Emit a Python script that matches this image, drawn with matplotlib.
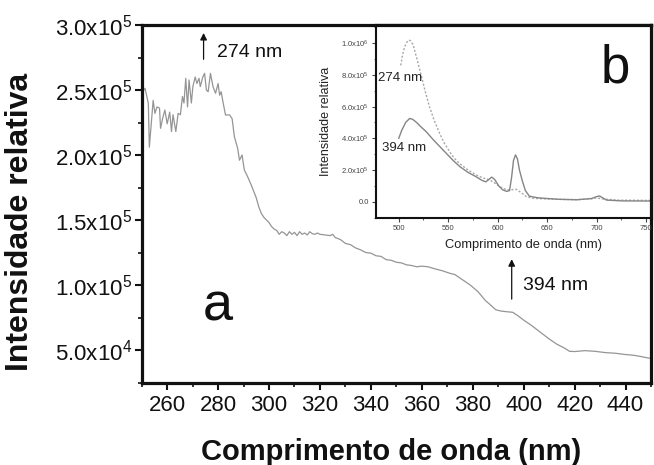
import matplotlib
matplotlib.use("Agg")
import matplotlib.pyplot as plt
from matplotlib.ticker import MultipleLocator, FixedLocator, FuncFormatter
import math

plt.rcParams['font.family'] = ['Liberation Sans', 'DejaVu Sans']
plt.rcParams['mathtext.fontset'] = 'custom'
plt.rcParams['mathtext.rm'] = 'Liberation Sans'
plt.rcParams['mathtext.it'] = 'Liberation Sans'
plt.rcParams['mathtext.default'] = 'regular'

# ---- main excitation spectrum (a) ----
exc_nm = [250.5, 251.3, 252.6, 253, 254, 254.5, 255.2, 256, 257, 257.4, 258.2, 259.1, 260,
          261, 261.7, 262.3, 263.4, 264.3, 265.2, 266, 266.6, 267.3, 268, 268.6, 269.5,
          270.1, 271, 271.7, 272.5, 273, 274, 274.7, 275.4, 276.1, 277, 278, 279, 280,
          280.6, 281.2, 281.9, 282.9, 284.5, 285.5, 286.4, 287.7, 288.4, 289.4, 290.3,
          291.6, 293, 294, 295, 296, 297, 298, 299, 300, 301, 302, 303, 304, 305, 306,
          307, 308, 309, 310, 311, 312, 313, 314, 315, 316, 317, 318, 319, 320, 322, 324,
          325, 326, 328, 330, 332, 334, 336, 338, 340, 342, 344, 346, 348, 350, 352, 354,
          356, 358, 360, 362.5, 365, 368, 371, 373, 376, 379, 382, 385, 387, 389, 391,
          393, 395.7, 398, 400, 403, 407, 410, 413, 416, 418, 420, 424, 428, 432, 436,
          440, 443, 446, 448.5, 450]
exc_int_k = [249, 251.3, 239.8, 206, 229.5, 242, 232, 237, 236, 220.5, 228, 234.6, 224,
             233, 218, 231, 218, 232, 231, 245, 240, 259, 237, 257.7, 240,
             252.6, 260, 255, 259, 252.6, 260, 262.8, 250, 248.7, 262.8, 252.6, 247.5, 255,
             246, 248.7, 241, 230.8, 230.8, 228, 214, 205, 196, 200, 188.5,
             183.3, 177, 172, 167, 160, 155, 152, 150, 148, 145, 143, 142, 139, 141, 140,
             138, 141, 139, 140.5, 138, 141, 139, 140, 138.5, 141, 139.5, 139, 140, 139,
             138.5, 138,
             139, 136.5, 135, 132, 131, 128.5, 127, 125, 124.5, 122.5, 122, 119.5, 119,
             117.5, 117, 115.5,
             115, 114, 114.5, 114, 112.5, 111, 109, 108, 104, 100, 95, 88, 84.6, 81, 80,
             79.5, 79, 76, 73, 69, 63, 58.5, 54.5, 51.5, 49, 48.8, 49.5, 49, 48, 47.5,
             46.5, 46, 45, 44, 43.5]
exc_int = [v * 1000 for v in exc_int_k]

# ---- inset emission spectra (b) ----
em394_nm = [500, 503, 507, 511, 514, 518, 522, 528, 535, 545, 555, 562, 570, 578, 584, 588,
            591, 594, 597, 601, 605, 609, 612, 614, 616, 618, 620, 622, 625, 628, 632, 640,
            650, 662, 680, 695, 700, 703, 706, 710, 725, 755]
em394_M = [0.40, 0.45, 0.50, 0.525, 0.52, 0.50, 0.475, 0.44, 0.39, 0.325, 0.26, 0.22,
           0.185, 0.158, 0.135, 0.125, 0.14, 0.155, 0.14, 0.10, 0.075, 0.065, 0.07, 0.15,
           0.26, 0.295, 0.27, 0.2, 0.13, 0.07, 0.035, 0.025, 0.02, 0.015, 0.012, 0.02,
           0.032, 0.036, 0.025, 0.01, 0.005, 0.004]
em274_nm = [502, 504, 506, 508, 510.4, 512, 514.5, 518, 523, 527, 531, 536, 541.4, 546,
            551.5, 556, 561.6, 570, 578.5, 585, 592, 597, 602, 607, 612, 615, 619, 623,
            629, 635, 645, 660, 680, 695, 700, 705, 720, 755]
em274_M = [0.86, 0.93, 0.978, 1.005, 1.02, 1.015, 0.99, 0.91, 0.79, 0.69, 0.60, 0.51,
           0.43, 0.37, 0.315, 0.275, 0.24, 0.2, 0.168, 0.15, 0.137, 0.118, 0.095, 0.08,
           0.074, 0.076, 0.078, 0.06, 0.032, 0.022, 0.018, 0.015, 0.013, 0.018, 0.024,
           0.018, 0.01, 0.008]
em394 = [v * 1e6 for v in em394_M]
em274 = [v * 1e6 for v in em274_M]

main_xticks = [260, 280, 300, 320, 340, 360, 380, 400, 420, 440]
main_yticks = [5.0e4, 1.0e5, 1.5e5, 2.0e5, 2.5e5, 3.0e5]
inset_xticks = [500, 550, 600, 650, 700, 750]
inset_yticks = [0.0, 2.0e5, 4.0e5, 6.0e5, 8.0e5, 1.0e6]


def sci_fmt(v, pos=None):
    if v == 0:
        return '0.0'
    e = int(math.floor(math.log10(abs(v)) + 1e-9))
    m = v / 10 ** e
    return r'%.1fx10$^{%d}$' % (m, e)


W, H = 654, 465
fig = plt.figure(figsize=(W / 100, H / 100), dpi=100)
ax = fig.add_axes([141.7 / W, 1 - 382.5 / H, (651 - 141.7) / W, (382.5 - 25) / H])

ax.plot(exc_nm, exc_int, color='#959595', lw=0.9)
ax.set_xlim(250, 450)
ax.set_ylim(25000, 300000)
ax.xaxis.set_major_locator(FixedLocator(main_xticks))
ax.xaxis.set_minor_locator(MultipleLocator(10))
ax.yaxis.set_major_locator(FixedLocator(main_yticks))
ax.yaxis.set_minor_locator(MultipleLocator(25000))
ax.yaxis.set_major_formatter(FuncFormatter(sci_fmt))
for s in ax.spines.values():
    s.set_linewidth(2.3)
    s.set_color('#111111')
ax.tick_params(which='major', direction='out', length=5, width=1.5, labelsize=16,
               colors='#111111', pad=4)
ax.tick_params(which='minor', direction='out', length=3, width=1.2, colors='#111111')
ax.tick_params(axis='y', which='major', pad=2, labelsize=16)

ax.set_xlabel('Comprimento de onda (nm)', fontsize=21, fontweight='bold', color='#111111')
ax.set_ylabel('Intensidade relativa', fontsize=23, fontweight='bold', color='#111111')
ax.xaxis.set_label_coords(0.49, -0.155)
ax.yaxis.set_label_coords(-0.21, 0.45)

# annotations on main
ax.annotate('', xy=(274.3, 296000), xytext=(274.3, 271500),
            arrowprops=dict(arrowstyle='-|>', color='#111111', lw=0.9,
                            mutation_scale=10))
ax.text(279.5, 279000, '274 nm', fontsize=14, va='center', ha='left', color='#111111')
ax.annotate('', xy=(395.3, 122000), xytext=(395.3, 87000),
            arrowprops=dict(arrowstyle='-|>', color='#111111', lw=0.9,
                            mutation_scale=10))
ax.text(399.7, 100000, '394 nm', fontsize=14, va='center', ha='left', color='#111111')
ax.text(274, 73000, 'a', fontsize=39, va='baseline', ha='left', color='#111111')

# ---- inset ----
ia = fig.add_axes([376 / W, 1 - 218 / H, (651 - 376) / W, (218 - 25) / H])
ia.plot(em274_nm, em274, color='#a8a8a8', lw=1.0, ls=(0, (1.5, 1.3)))
ia.plot(em394_nm, em394, color='#858585', lw=1.0)
ia.set_xlim(477, 755)
ia.set_ylim(-1.03e5, 1.115e6)
ia.xaxis.set_major_locator(FixedLocator(inset_xticks))
ia.xaxis.set_minor_locator(MultipleLocator(25))
ia.yaxis.set_major_locator(FixedLocator(inset_yticks))
ia.yaxis.set_minor_locator(MultipleLocator(1e5))
ia.yaxis.set_major_formatter(FuncFormatter(sci_fmt))
for s in ia.spines.values():
    s.set_linewidth(1.5)
    s.set_color('#111111')
ia.spines['top'].set_linewidth(2.3)
ia.spines['right'].set_linewidth(2.3)
ia.tick_params(which='major', direction='out', length=3, width=0.8, labelsize=5.5,
               colors='#444444', pad=2)
ia.tick_params(which='minor', direction='out', length=1.5, width=0.6, colors='#444444')
ia.set_xlabel('Comprimento de onda (nm)', fontsize=9.3, color='#222222')
ia.set_ylabel('Intensidade relativa', fontsize=9.0, color='#222222')
ia.xaxis.set_label_coords(0.535, -0.11)
ia.yaxis.set_label_coords(-0.16, 0.5)
ia.text(479, 0.78e6, '274 nm', fontsize=9.5, va='center', ha='left', color='#222222')
ia.text(483, 0.34e6, '394 nm', fontsize=9.5, va='center', ha='left', color='#222222')
ia.text(704, 0.755e6, 'b', fontsize=38, va='baseline', ha='left', color='#111111')

fig.savefig('out.png', dpi=100)
